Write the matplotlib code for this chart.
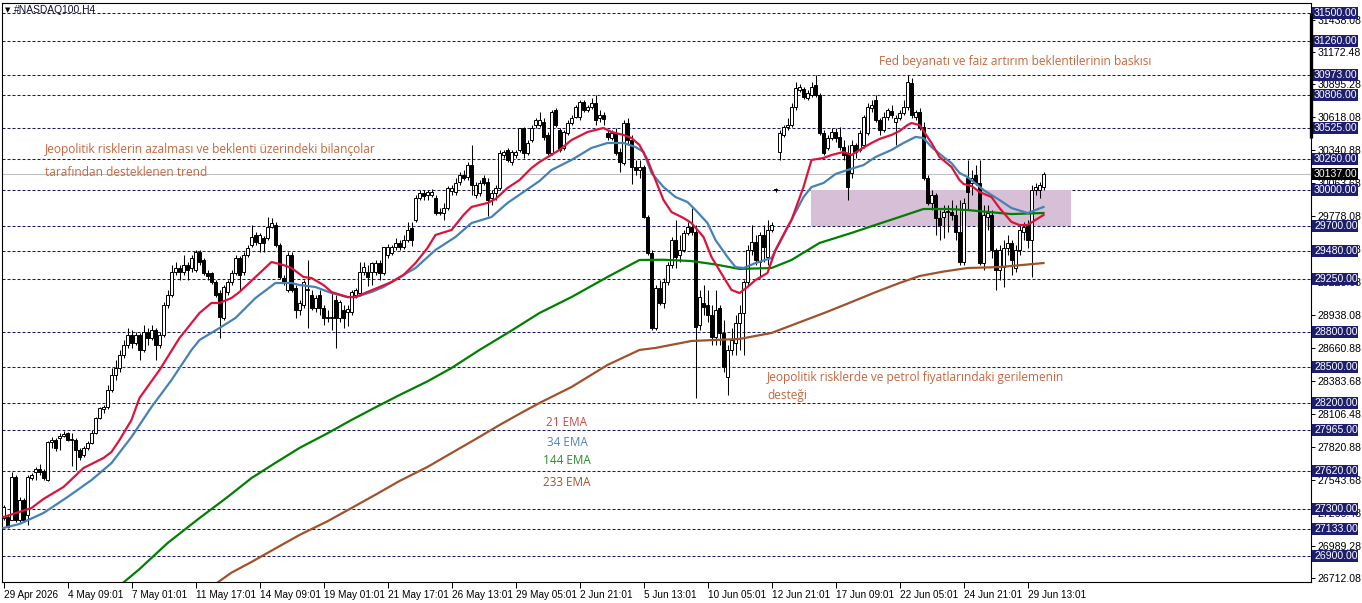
import matplotlib
matplotlib.use("Agg")
import matplotlib.pyplot as plt
import matplotlib.transforms as mtransforms
from matplotlib.patches import Rectangle

plt.rcParams["font.family"] = ["Liberation Sans", "DejaVu Sans"]

W, H = 1362, 603

# H4 candles, 29 Apr -> 30 Jun (index 0..260)
opens = [
    27222, 27231, 27206, 27570, 27206, 27375, 27248, 27561, 27612, 27638,
    27621, 27544, 27866, 27883, 27900, 27917, 27943, 27883, 27886, 27799,
    27756, 27816, 27858, 27943, 28070, 28146, 28163, 28307, 28434, 28493,
    28603, 28688, 28773, 28705, 28773, 28646, 28798, 28747, 28815, 28688,
    28773, 29027, 29111, 29306, 29340, 29306, 29365, 29340, 29323, 29476,
    29408, 29298, 29298, 29221, 29128, 28917, 29137, 29221, 29298, 29425,
    29306, 29450, 29535, 29620, 29552, 29594, 29594, 29687, 29704, 29535,
    29255, 29154, 29450, 29171, 28984, 29027, 29154, 29111, 29001, 29111,
    29001, 28916, 28916, 29069, 28916, 28984, 28968, 28968, 29111, 29128,
    29306, 29306, 29306, 29306, 29382, 29298, 29450, 29467, 29518, 29552,
    29518, 29577, 29679, 29747, 29933, 29975, 29958, 29958, 29933, 29806,
    29806, 29848, 29992, 29984, 30069, 30128, 30111, 30212, 29958, 29975,
    30102, 30069, 29933, 29975, 30018, 30297, 30340, 30238, 30297, 30340,
    30526, 30314, 30424, 30551, 30551, 30577, 30467, 30314, 30678, 30509,
    30357, 30483, 30568, 30619, 30619, 30746, 30678, 30704, 30738, 30611,
    30636, 30483, 30441, 30483, 30323, 30229, 30568, 30424, 30196, 30170,
    30196, 29772, 29467, 28832, 29171, 29044, 29221, 29365, 29577, 29450,
    29493, 29637, 29687, 29645, 28857, 29044, 29027, 28942, 28756, 29001,
    28790, 28417, 28646, 28705, 28874, 28959, 29221, 29493, 29560, 29391,
    29620, 29433, 29662, 30001, 30323, 30467, 30534, 30551, 30704, 30848,
    30856, 30780, 30805, 30890, 30805, 30483, 30357, 30441, 30492, 30450,
    30365, 30314, 30145, 30382, 30340, 30382, 30483, 30695, 30763, 30594,
    30509, 30619, 30670, 30577, 30611, 30653, 30704, 30907, 30619, 30662,
    30534, 30102, 29891, 29958, 29764, 29772, 29814, 29814, 29789, 29645,
    29391, 30102, 30060, 30128, 30060, 29382, 29772, 29789, 29493, 29323,
    29348, 29510, 29552, 29340, 29493, 29645, 29704, 29577, 30001, 30001,
    30026,
]
highs = [
    27333, 27248, 27612, 27587, 27400, 27392, 27587, 27604, 27655, 27680,
    27638, 27875, 27909, 27900, 27943, 27960, 27951, 27943, 27900, 27816,
    27833, 27875, 27968, 28078, 28163, 28180, 28349, 28493, 28561, 28646,
    28730, 28832, 28815, 28798, 28790, 28857, 28832, 28857, 28832, 28798,
    29052, 29154, 29365, 29391, 29365, 29450, 29391, 29450, 29493, 29493,
    29425, 29323, 29306, 29238, 29154, 29196, 29238, 29323, 29450, 29442,
    29476, 29535, 29704, 29645, 29637, 29611, 29772, 29764, 29730, 29552,
    29281, 29476, 29476, 29196, 29069, 29238, 29408, 29154, 29111, 29154,
    29027, 28984, 29128, 29111, 29069, 29027, 29027, 29154, 29171, 29391,
    29391, 29365, 29391, 29408, 29408, 29518, 29543, 29535, 29594, 29577,
    29620, 29730, 29730, 29958, 30001, 30001, 30001, 30009, 29958, 29848,
    29891, 30035, 30043, 30102, 30153, 30170, 30238, 30382, 30069, 30085,
    30128, 30102, 30001, 30043, 30340, 30340, 30357, 30340, 30340, 30526,
    30534, 30424, 30551, 30611, 30662, 30611, 30492, 30678, 30695, 30526,
    30509, 30594, 30636, 30721, 30763, 30763, 30721, 30780, 30806, 30678,
    30662, 30509, 30509, 30526, 30357, 30594, 30611, 30467, 30255, 30255,
    30212, 29789, 29493, 29196, 29238, 29255, 29391, 29603, 29747, 29620,
    29662, 29730, 29848, 29704, 29154, 29196, 29154, 29027, 29154, 29027,
    28900, 28688, 28832, 28942, 29027, 29238, 29535, 29704, 29620, 29645,
    29704, 29747, 29730, 30018, 30509, 30551, 30611, 30738, 30916, 30899,
    30873, 30848, 30916, 30975, 30822, 30509, 30467, 30526, 30526, 30534,
    30424, 30382, 30424, 30399, 30509, 30636, 30738, 30763, 30806, 30611,
    30662, 30695, 30721, 30636, 30678, 30763, 30975, 30949, 30678, 30695,
    30577, 30128, 30001, 29975, 29831, 29874, 29874, 29916, 29874, 29916,
    29933, 30255, 30170, 30212, 30255, 29874, 29874, 29831, 29510, 29535,
    29577, 29620, 29577, 29535, 29704, 29730, 29747, 30043, 30060, 30069,
    30153,
]
lows = [
    27206, 27138, 27206, 27189, 27189, 27189, 27163, 27544, 27544, 27587,
    27544, 27536, 27816, 27790, 27799, 27909, 27875, 27663, 27629, 27714,
    27739, 27799, 27849, 27934, 28061, 28112, 28146, 28290, 28391, 28459,
    28578, 28663, 28663, 28688, 28561, 28629, 28688, 28730, 28561, 28663,
    28756, 29001, 29094, 29281, 29238, 29281, 29238, 29306, 29306, 29365,
    29281, 29238, 29205, 29094, 28747, 28900, 29111, 29196, 29281, 29154,
    29281, 29433, 29518, 29535, 29476, 29476, 29577, 29679, 29518, 29247,
    29196, 29137, 29137, 28916, 28942, 29001, 28832, 28984, 28968, 28942,
    28857, 28883, 28815, 28662, 28883, 28832, 28849, 28942, 29086, 29103,
    29281, 29188, 29196, 29281, 29238, 29281, 29425, 29450, 29493, 29493,
    29501, 29560, 29526, 29730, 29916, 29916, 29916, 29941, 29789, 29789,
    29747, 29831, 29958, 29958, 30043, 30085, 30085, 29958, 29933, 29950,
    30043, 29780, 29874, 29916, 30001, 30272, 30238, 30212, 30272, 30323,
    30272, 30297, 30407, 30526, 30534, 30424, 30297, 30297, 30534, 30323,
    30340, 30467, 30551, 30611, 30594, 30662, 30662, 30687, 30551, 30577,
    30551, 30424, 30424, 30297, 30153, 30212, 30382, 30052, 30128, 30102,
    29764, 29450, 28815, 28815, 29027, 29001, 29196, 29340, 29340, 29391,
    29476, 29620, 29620, 28239, 28815, 28942, 28883, 28688, 28688, 28688,
    28459, 28264, 28603, 28603, 28646, 28603, 29196, 29450, 29365, 29255,
    29391, 29365, 29645, 29984, 30255, 30450, 30509, 30534, 30678, 30831,
    30772, 30763, 30789, 30789, 30467, 30297, 30340, 30424, 30407, 30340,
    30255, 29916, 30102, 30272, 30323, 30357, 30467, 30662, 30577, 30467,
    30492, 30594, 30611, 30382, 30594, 30636, 30678, 30611, 30594, 30509,
    30085, 29874, 29831, 29620, 29577, 29594, 29645, 29747, 29577, 29365,
    29365, 29831, 29958, 30043, 29365, 29323, 29662, 29425, 29154, 29238,
    29179, 29450, 29281, 29306, 29450, 29577, 29510, 29264, 29958, 29933,
    30001,
]
closes = [
    27316, 27147, 27570, 27206, 27375, 27206, 27570, 27587, 27638, 27612,
    27561, 27866, 27883, 27816, 27917, 27934, 27883, 27886, 27799, 27739,
    27816, 27858, 27943, 28070, 28155, 28163, 28307, 28434, 28493, 28603,
    28688, 28773, 28705, 28773, 28646, 28798, 28747, 28815, 28688, 28773,
    29027, 29111, 29306, 29340, 29306, 29365, 29323, 29425, 29476, 29391,
    29298, 29272, 29221, 29111, 28925, 29179, 29221, 29298, 29425, 29281,
    29450, 29510, 29603, 29560, 29620, 29552, 29687, 29721, 29535, 29264,
    29221, 29450, 29154, 28984, 29044, 29221, 29160, 29001, 29086, 29001,
    28916, 28920, 28925, 28916, 29052, 28916, 28993, 29137, 29154, 29306,
    29348, 29264, 29382, 29382, 29298, 29518, 29518, 29518, 29552, 29518,
    29577, 29662, 29577, 29933, 29975, 29950, 29984, 29984, 29806, 29810,
    29848, 30018, 30018, 30060, 30128, 30102, 30212, 30043, 30043, 30060,
    30060, 29916, 29975, 30018, 30314, 30323, 30255, 30323, 30323, 30526,
    30314, 30399, 30526, 30594, 30594, 30450, 30314, 30662, 30551, 30340,
    30492, 30568, 30611, 30704, 30746, 30678, 30704, 30738, 30594, 30636,
    30602, 30450, 30483, 30314, 30238, 30568, 30424, 30196, 30170, 30196,
    29772, 29467, 28832, 29171, 29044, 29221, 29365, 29577, 29433, 29493,
    29637, 29687, 29645, 28840, 29094, 29010, 28942, 28756, 28984, 28790,
    28502, 28646, 28730, 28874, 28959, 29221, 29493, 29560, 29408, 29620,
    29518, 29662, 29704, 30001, 30483, 30534, 30551, 30704, 30865, 30873,
    30789, 30822, 30873, 30805, 30483, 30314, 30441, 30492, 30441, 30365,
    30297, 30026, 30382, 30323, 30483, 30619, 30704, 30721, 30594, 30509,
    30619, 30678, 30636, 30611, 30653, 30704, 30916, 30636, 30662, 30534,
    30102, 29891, 29958, 29764, 29704, 29814, 29818, 29789, 29645, 29391,
    29891, 29984, 30102, 30060, 29382, 29789, 29806, 29493, 29323, 29493,
    29510, 29552, 29408, 29493, 29662, 29687, 29577, 30001, 30026, 30043,
    30137,
]

# EMA lines (candle index, price)
ema21_idx = [0, 7, 10, 15, 20, 25, 27, 29, 32, 34, 39, 44, 47, 49, 52, 54, 57, 59, 63, 67,
             70, 72, 75, 77, 80, 82, 86, 88, 91, 94, 97, 100, 103, 106, 108, 112, 115, 117,
             121, 123, 126, 129, 132, 134, 139, 142, 146, 150, 152, 155, 157, 159, 161, 163,
             165, 167, 170, 172, 175, 177, 180, 182, 184, 186, 188, 191, 193, 196, 197, 200,
             202, 205, 207, 210, 212, 214, 217, 219, 222, 224, 226, 227, 229, 232, 234, 237,
             239, 240, 242, 244, 247, 249, 252, 254, 256, 258, 260]
ema21_val = [27231, 27307, 27384, 27485, 27646, 27731, 27782, 27883, 28053, 28239, 28476,
             28747, 28874, 28959, 29044, 29044, 29086, 29137, 29264, 29391, 29365, 29340,
             29264, 29255, 29196, 29137, 29094, 29094, 29137, 29179, 29221, 29281, 29382,
             29510, 29620, 29662, 29789, 29857, 29891, 29924, 30018, 30085, 30187, 30238,
             30340, 30424, 30492, 30526, 30492, 30467, 30441, 30382, 30255, 30085, 29916,
             29814, 29764, 29721, 29603, 29433, 29264, 29154, 29128, 29179, 29238, 29298,
             29493, 29687, 29747, 30026, 30255, 30272, 30297, 30323, 30297, 30340, 30399,
             30433, 30467, 30500, 30551, 30568, 30551, 30399, 30280, 30196, 30085, 30052,
             30035, 29984, 29941, 29848, 29730, 29704, 29704, 29747, 29789]

ema34_idx = [0, 4, 10, 16, 22, 27, 32, 37, 42, 47, 49, 54, 58, 63, 68, 72, 74, 78, 82, 86,
             88, 92, 95, 100, 103, 108, 113, 117, 122, 126, 130, 134, 137, 142, 147, 151,
             155, 158, 160, 162, 165, 168, 171, 173, 176, 178, 181, 183, 185, 188, 192, 194,
             197, 200, 202, 205, 208, 211, 215, 218, 222, 225, 228, 230, 232, 235, 237, 239,
             241, 245, 249, 252, 256, 258, 260]
ema34_val = [27138, 27172, 27265, 27400, 27544, 27688, 27909, 28163, 28391, 28646, 28730,
             28832, 28917, 29086, 29213, 29213, 29196, 29179, 29128, 29094, 29094, 29137,
             29179, 29281, 29340, 29493, 29603, 29721, 29772, 29891, 29984, 30077, 30170,
             30255, 30357, 30399, 30399, 30365, 30323, 30145, 30026, 29941, 29899, 29831,
             29721, 29577, 29433, 29348, 29340, 29382, 29425, 29552, 29747, 29941, 30026,
             30060, 30136, 30170, 30212, 30280, 30340, 30399, 30450, 30441, 30365, 30280,
             30229, 30145, 30111, 30001, 29916, 29848, 29806, 29831, 29857]

ema144_idx = [28, 34, 41, 49, 56, 62, 68, 74, 81, 87, 93, 99, 106, 112, 119, 127, 134, 142,
              151, 159, 165, 172, 178, 184, 192, 197, 204, 212, 218, 224, 230, 236, 241,
              246, 252, 260]
ema144_val = [26620, 26790, 27010, 27222, 27400, 27561, 27690, 27816, 27940, 28053, 28160,
              28264, 28380, 28493, 28646, 28810, 28959, 29094, 29264, 29408, 29410, 29399,
              29370, 29332, 29340, 29408, 29552, 29637, 29705, 29772, 29840, 29840, 29831,
              29815, 29797, 29806]

ema233_idx = [52, 57, 62, 68, 74, 81, 87, 93, 99, 106, 112, 118, 124, 129, 134, 142, 151,
              159, 163, 172, 184, 192, 199, 206, 212, 218, 224, 229, 235, 241, 249, 260]
ema233_val = [26640, 26760, 26850, 26965, 27079, 27195, 27307, 27420, 27536, 27655, 27773,
              27890, 28010, 28105, 28197, 28332, 28519, 28646, 28663, 28722, 28739, 28790,
              28880, 28970, 29052, 29135, 29213, 29272, 29310, 29340, 29348, 29382]

levels = [31500, 31260, 30973, 30806, 30525, 30260, 30000, 29700, 29480, 29250,
          28800, 28500, 28200, 27965, 27620, 27300, 27133, 26900]
price_ticks = [31438.08, 31172.48, 30895.28, 30618.08, 30340.88, 30063.68, 29778.08,
               29500.88, 29223.68, 28938.08, 28660.88, 28383.68, 28106.48, 27820.88,
               27543.68, 27266.48, 26989.28, 26712.08]
last_price = 30137.00
zone_low, zone_high = 29700, 30000

date_idx = [0, 16, 32, 48, 64, 80, 96, 112, 128, 144, 160, 176, 192, 208, 224, 240, 256]
date_labels = ["29 Apr 2026", "4 May 09:01", "7 May 01:01", "11 May 17:01", "14 May 09:01",
               "19 May 01:01", "21 May 17:01", "26 May 13:01", "29 May 05:01", "2 Jun 21:01",
               "5 Jun 13:01", "10 Jun 05:01", "12 Jun 21:01", "17 Jun 09:01", "22 Jun 05:01",
               "24 Jun 21:01", "29 Jun 13:01"]

NAVY = "#1e1e6e"
TXT = "#c5673e"


def px(x, y):
    # pixel position of the reference -> axes fraction
    return (x - 2) / 1309, (582 - y) / 579


def draw_candles(ax):
    idx = range(len(closes))
    ax.vlines(idx, lows, highs, color="black", lw=0.75, zorder=3)
    for i in idx:
        o, c = opens[i], closes[i]
        bottom = min(o, c)
        hgt = max(abs(c - o), 5)
        face = "white" if c >= o else "black"
        ax.add_patch(Rectangle((i - 0.32, bottom), 0.64, hgt, facecolor=face,
                               edgecolor="black", lw=0.7, zorder=4))


def main():
    fig = plt.figure(figsize=(W / 100, H / 100), dpi=100)
    ax = fig.add_axes([2 / W, 21 / H, 1309 / W, 579 / H])
    ax.set_xlim(-0.375, 326.875)
    ax.set_ylim(26680.5, 31584.6)

    for lv in levels:
        ax.axhline(lv, color="#1a1a5a", lw=0.75, ls=(0, (2.9, 1.9)), zorder=1)
    ax.axhline(last_price, color="#c0c0c0", lw=0.75, zorder=1)

    ax.add_patch(Rectangle((201.9, zone_low), 65, zone_high - zone_low,
                           facecolor="#d8bfd8", edgecolor="none", zorder=1.5))

    ax.plot(ema233_idx, ema233_val, color="#a0522d", lw=1.6, zorder=5)
    ax.plot(ema144_idx, ema144_val, color="#008000", lw=1.6, zorder=5)
    draw_candles(ax)
    ax.plot(ema34_idx, ema34_val, color="#4682b4", lw=1.6, zorder=5)
    ax.plot(ema21_idx, ema21_val, color="#dc143c", lw=1.6, zorder=5)

    # axes styling
    for sp in ax.spines.values():
        sp.set_color("black")
        sp.set_linewidth(0.8)
    ax.yaxis.tick_right()
    ax.set_yticks(price_ticks)
    ax.set_yticklabels([f"{v:.2f}" for v in price_ticks])
    ax.tick_params(axis="y", direction="out", length=3, width=0.7, pad=2,
                   labelsize=7.6, colors="black")
    ax.set_xticks(date_idx)
    ax.set_xticklabels(date_labels, ha="left")
    ax.tick_params(axis="x", direction="out", length=4, width=0.7, pad=1.5,
                   labelsize=7.2, colors="black")

    blend = mtransforms.blended_transform_factory(ax.transAxes, ax.transData)
    box_h = 12 * 8.47
    for lv in levels:
        ax.add_patch(Rectangle((1.00076, lv - box_h / 2), 0.0351, box_h, transform=blend,
                               facecolor=NAVY, edgecolor="none", clip_on=False, zorder=6))
        ax.text(1.0023, lv, f"{lv:.2f}", transform=blend, color="white", fontsize=7.6,
                va="center", ha="left", clip_on=False, zorder=7)
    ax.add_patch(Rectangle((1.00076, last_price - box_h / 2), 0.0351, box_h, transform=blend,
                           facecolor="black", edgecolor="none", clip_on=False, zorder=6))
    ax.text(1.0023, last_price, f"{last_price:.2f}", transform=blend, color="white",
            fontsize=7.6, va="center", ha="left", clip_on=False, zorder=7)
    ax.plot([1.0, 1.0], [31500, 30440], transform=blend, color="black", lw=2.4,
            clip_on=False, zorder=6, solid_capstyle="butt")

    # header
    ax.text(*px(5, 10), "▼", transform=ax.transAxes, fontsize=5, va="center",
            ha="left", family="DejaVu Sans")
    ax.text(*px(14, 10), "#NASDAQ100,H4", transform=ax.transAxes, fontsize=7.4,
            va="center", ha="left", color="#101030")

    # annotations
    notes = [
        (45, 149, "Jeopolitik risklerin azalması ve beklenti üzerindeki bilançolar"),
        (45, 173, "tarafından desteklenen trend"),
        (879, 62, "Fed beyanatı ve faiz artırım beklentilerinin baskısı"),
        (767, 377, "Jeopolitik risklerde ve petrol fiyatlarındaki gerilemenin"),
        (767, 396, "desteği"),
    ]
    for x, y, s in notes:
        ax.text(*px(x, y), s, transform=ax.transAxes, fontsize=8.6, color=TXT,
                va="center", ha="left", family="Open Sans")

    ema_labels = [(422, "21 EMA", "#c84b4b"), (442, "34 EMA", "#4f83b8"),
                  (461, "144 EMA", "#2b8a2b"), (483, "233 EMA", "#a0522d")]
    for y, s, col in ema_labels:
        ax.text(*px(567, y), s, transform=ax.transAxes, fontsize=8.5, color=col,
                va="center", ha="center", family="Open Sans")

    fig.savefig("out.png", dpi=100)


if __name__ == "__main__":
    main()
